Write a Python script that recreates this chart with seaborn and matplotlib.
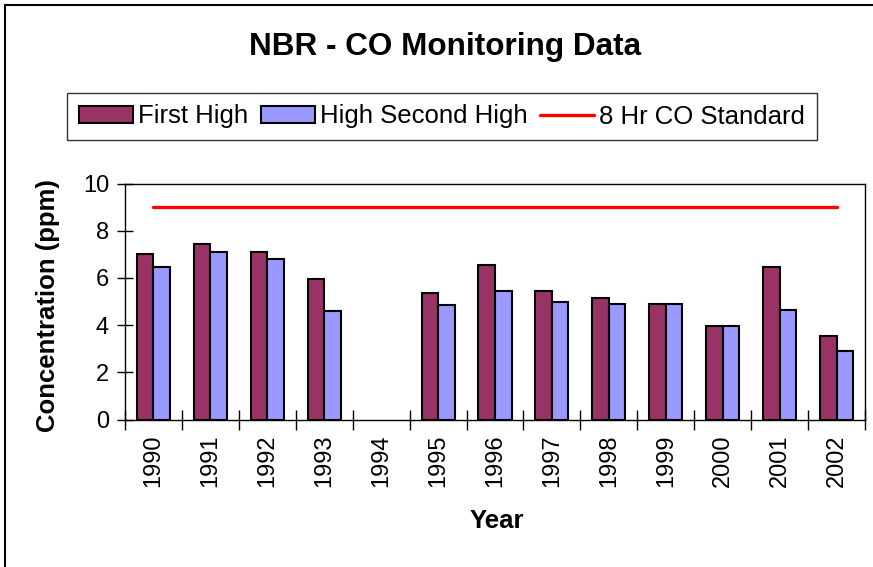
import numpy as np
import pandas as pd
import seaborn as sns
import matplotlib
matplotlib.use("Agg")
import matplotlib.pyplot as plt
from matplotlib.patches import Rectangle
from matplotlib.ticker import FixedLocator

years = ["1990", "1991", "1992", "1993", "1994", "1995", "1996",
         "1997", "1998", "1999", "2000", "2001", "2002"]
first_high = [7.0, 7.45, 7.1, 5.95, np.nan, 5.35, 6.55, 5.45, 5.15, 4.9, 3.97, 6.45, 3.55]
second_high = [6.45, 7.1, 6.8, 4.6, np.nan, 4.85, 5.45, 5.0, 4.9, 4.9, 3.97, 4.65, 2.9]
standard = [9.0] * len(years)
series_names = ["First High", "High Second High"]
colors = ["#993366", "#9999FF"]

sns.set_theme(style="white")
plt.rcParams["font.family"] = ["Liberation Sans", "DejaVu Sans"]
plt.rcParams["text.color"] = "black"
plt.rcParams["axes.labelcolor"] = "black"
plt.rcParams["xtick.color"] = "black"
plt.rcParams["ytick.color"] = "black"

df = pd.DataFrame({
    "Year": years * 2,
    "Value": first_high + second_high,
    "Series": [series_names[0]] * len(years) + [series_names[1]] * len(years),
})

W, H = 873, 567
fig = plt.figure(figsize=(W / 100, H / 100), dpi=100)
ax = fig.add_axes([125 / W, 1 - 419.5 / H, 740 / W, 236 / H])

sns.barplot(data=df, x="Year", y="Value", hue="Series", order=years,
            hue_order=series_names, palette=colors, width=0.58, gap=0,
            edgecolor="black", linewidth=1.5, saturation=1, ax=ax, legend=False)
ax.plot(range(len(years)), standard, color="#FF0000", lw=2.4, solid_capstyle="round",
        label="8 Hr CO Standard")

ax.set_xlim(-0.5, len(years) - 0.5)
ax.set_ylim(0, 10)
ax.set_yticks([0, 2, 4, 6, 8, 10])
for s in ax.spines.values():
    s.set_visible(True)
    s.set_color("black")
    s.set_linewidth(1.0)

ax.tick_params(axis="y", direction="inout", length=11, width=1, color="black",
               labelcolor="black", labelsize=17, pad=6, left=True)
ax.tick_params(axis="x", which="major", length=0, labelsize=17, pad=11, rotation=90,
               labelcolor="black")
ax.xaxis.set_minor_locator(FixedLocator(np.arange(-0.5, len(years), 1.0)))
ax.tick_params(axis="x", which="minor", direction="inout", length=15, width=1,
               color="black", bottom=True)
for lab in ax.get_xticklabels():
    lab.set_va("top")

ax.set_xlabel("Year", fontsize=18.5, fontweight="bold", color="black")
ax.set_ylabel("Concentration (ppm)", fontsize=18.5, fontweight="bold", color="black")
ax.xaxis.set_label_coords((497 - 125) / 740, (419.5 - 521) / 236)
ax.xaxis.label.set_va("center")
ax.yaxis.set_label_coords((48 - 125) / 740, (419.5 - 306) / 236)
ax.yaxis.label.set_va("center")

fig.text(445 / W, 1 - 47 / H, "NBR - CO Monitoring Data", ha="center", va="center",
         fontsize=22.7, fontweight="bold", color="black")

handles = [Rectangle((0, 0), 1, 1, facecolor=c, edgecolor="black", lw=1.5) for c in colors]
handles.append(plt.Line2D([0], [0], color="#FF0000", lw=2.4))
leg = fig.legend(handles, series_names + ["8 Hr CO Standard"], ncol=3,
                 loc="center", bbox_to_anchor=(442 / W, 1 - 116.5 / H),
                 fontsize=18.5, frameon=True, fancybox=False, handlelength=2.1,
                 handleheight=0.6, handletextpad=0.2, columnspacing=0.5,
                 borderpad=0.45, borderaxespad=0)
leg.get_frame().set_edgecolor("black")
leg.get_frame().set_linewidth(1.0)
for t in leg.get_texts():
    t.set_color("black")

fig.patches.append(Rectangle((5 / W, -0.1), 1.2, 1 - 5 / H + 0.1, transform=fig.transFigure,
                             fill=False, edgecolor="black", lw=1.5))

fig.savefig("out.png", dpi=100)
